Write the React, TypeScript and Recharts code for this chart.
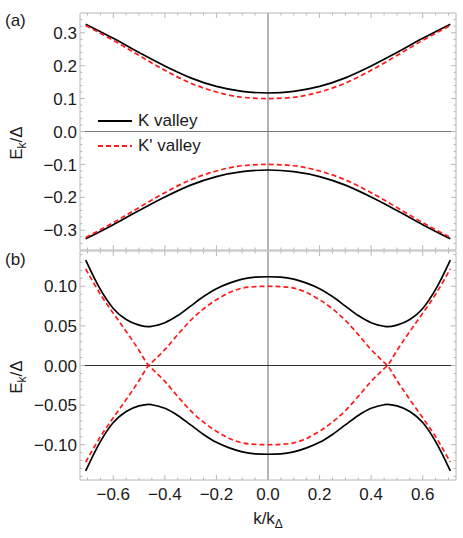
import { LineChart, Line, XAxis, YAxis, ReferenceLine, Legend } from "recharts";

const FONT = "'Liberation Sans', Arial, sans-serif";
const FRAME = "#b8b8b8";
const RED = "#ff1a1a";

// panel (a): k values and band energies
const kA = [-0.707, -0.6, -0.5, -0.4, -0.3, -0.2, -0.1, 0, 0.1, 0.2, 0.3, 0.4, 0.5, 0.6, 0.707];
const kUpperA = [0.326, 0.283, 0.24, 0.199, 0.163, 0.137, 0.122, 0.117, 0.122, 0.137, 0.163, 0.199, 0.24, 0.283, 0.326];
const kLowerA = [-0.326, -0.283, -0.24, -0.199, -0.163, -0.137, -0.122, -0.117, -0.122, -0.137, -0.163, -0.199, -0.24, -0.283, -0.326];
const kpUpperA = [0.322, 0.277, 0.231, 0.186, 0.147, 0.12, 0.104, 0.1, 0.104, 0.12, 0.147, 0.186, 0.231, 0.277, 0.322];
const kpLowerA = [-0.322, -0.277, -0.231, -0.186, -0.147, -0.12, -0.104, -0.1, -0.104, -0.12, -0.147, -0.186, -0.231, -0.277, -0.322];

// panel (b)
const kB = [-0.707, -0.65, -0.6, -0.55, -0.5, -0.463, -0.45, -0.4, -0.35, -0.3, -0.25, -0.2, -0.15, -0.1, -0.05, 0,
  0.05, 0.1, 0.15, 0.2, 0.25, 0.3, 0.35, 0.4, 0.45, 0.463, 0.5, 0.55, 0.6, 0.65, 0.707];
const kUpperB = [0.133, 0.096, 0.072, 0.058, 0.051, 0.049, 0.0495, 0.054, 0.063, 0.075, 0.087, 0.097, 0.104, 0.109, 0.1115, 0.112,
  0.1115, 0.109, 0.104, 0.097, 0.087, 0.075, 0.063, 0.054, 0.0495, 0.049, 0.051, 0.058, 0.072, 0.096, 0.133];
const kLowerB = [-0.133, -0.096, -0.072, -0.058, -0.051, -0.049, -0.0495, -0.054, -0.063, -0.075, -0.087, -0.097, -0.104, -0.109, -0.1115, -0.112,
  -0.1115, -0.109, -0.104, -0.097, -0.087, -0.075, -0.063, -0.054, -0.0495, -0.049, -0.051, -0.058, -0.072, -0.096, -0.133];
const kp1B = [-0.122, -0.09, -0.066, -0.043, -0.019, 0, 0.004, 0.02, 0.039, 0.057, 0.0715, 0.083, 0.092, 0.0977, 0.0995, 0.1,
  0.0995, 0.0977, 0.092, 0.083, 0.0715, 0.057, 0.039, 0.02, 0.004, 0, -0.019, -0.043, -0.066, -0.09, -0.122];
const kp2B = [0.122, 0.09, 0.066, 0.043, 0.019, 0, -0.004, -0.02, -0.039, -0.057, -0.0715, -0.083, -0.092, -0.0977, -0.0995, -0.1,
  -0.0995, -0.0977, -0.092, -0.083, -0.0715, -0.057, -0.039, -0.02, -0.004, 0, 0.019, 0.043, 0.066, 0.09, 0.122];

// labelled ticks
const xMajor = [-0.6, -0.4, -0.2, 0, 0.2, 0.4, 0.6];
const yMajorA = [-0.3, -0.2, -0.1, 0, 0.1, 0.2, 0.3];
const yMajorB = [-0.1, -0.05, 0, 0.05, 0.1];

// minor tick marks
const steps = (lo: number, hi: number, step: number) => {
  const out: number[] = [];
  for (let i = Math.round(lo / step); i <= Math.round(hi / step); i++) out.push(+(i * step).toFixed(4));
  return out;
};
const xTicks = steps(-0.7, 0.7, 0.05);
const yTicksA = steps(-0.34, 0.34, 0.02);
const yTicksB = steps(-0.14, 0.14, 0.01);

const X_DOMAIN = [-0.729, 0.729];
const Y_DOMAIN_A = [-0.36, 0.36];
const Y_DOMAIN_B = [-0.1445, 0.1445];

const dataA = kA.map((k, i) => ({ k, kUp: kUpperA[i], kLo: kLowerA[i], kpUp: kpUpperA[i], kpLo: kpLowerA[i] }));
const dataB = kB.map((k, i) => ({ k, kUp: kUpperB[i], kLo: kLowerB[i], kp1: kp1B[i], kp2: kp2B[i] }));

const fmt = (v: number, digits: number) => (v < -1e-9 ? "\u2212" : "") + Math.abs(v).toFixed(digits);

function FrameTick(props: any) {
  const { x, y, payload, side, majors, digits } = props;
  const v = payload.value;
  const major = majors.some((m: number) => Math.abs(m - v) < 1e-6);
  const len = major ? 5 : 2.5;
  let line;
  if (side === "left") line = <line x1={x} x2={x + len} y1={y} y2={y} />;
  else if (side === "right") line = <line x1={x - len} x2={x} y1={y} y2={y} />;
  else if (side === "top") line = <line x1={x} x2={x} y1={y} y2={y + len} />;
  else line = <line x1={x} x2={x} y1={y - len} y2={y} />;
  return (
    <g stroke={FRAME} strokeWidth={1}>
      {line}
      {major && digits != null && side === "left" && (
        <text x={x - 3} y={y} dy="0.36em" textAnchor="end" stroke="none" fill="#1a1a1a" fontSize={17} fontFamily={FONT}>
          {fmt(v, digits)}
        </text>
      )}
      {major && digits != null && side === "bottom" && (
        <text x={x} y={y + 20} textAnchor="middle" stroke="none" fill="#1a1a1a" fontSize={17} fontFamily={FONT}>
          {fmt(v, digits)}
        </text>
      )}
    </g>
  );
}

function LegendBox() {
  const row = (dash: string | undefined, color: string, label: string) => (
    <div style={{ display: "flex", alignItems: "center", height: 25 }}>
      <svg width={34} height={6}>
        <line x1={0} x2={34} y1={3} y2={3} stroke={color} strokeWidth={1.8} strokeDasharray={dash} />
      </svg>
      <span style={{ marginLeft: 6, fontFamily: FONT, fontSize: 17, color: "#1a1a1a" }}>{label}</span>
    </div>
  );
  return (
    <div>
      {row(undefined, "#000", "K valley")}
      {row("5 3", RED, "K' valley")}
    </div>
  );
}

function frameAxes(yTicks: number[], yMajors: number[], yDomain: number[], yDigits: number, bottomLabels: boolean, topH: number, bottomH: number) {
  return [
    <XAxis key="xb" dataKey="k" type="number" domain={X_DOMAIN} ticks={xTicks} interval={0} allowDataOverflow
      height={bottomH} tickSize={0} tickMargin={0} tickLine={false} axisLine={{ stroke: FRAME }}
      tick={(p: any) => <FrameTick {...p} side="bottom" majors={xMajor} digits={bottomLabels ? 1 : null} />} />,
    <XAxis key="xt" xAxisId="top" orientation="top" dataKey="k" type="number" domain={X_DOMAIN} ticks={xTicks} interval={0} allowDataOverflow
      height={topH} tickSize={0} tickMargin={0} tickLine={false} axisLine={{ stroke: FRAME }}
      tick={(p: any) => <FrameTick {...p} side="top" majors={xMajor} digits={null} />} />,
    <YAxis key="yl" type="number" domain={yDomain} ticks={yTicks} interval={0} allowDataOverflow width={80}
      tickSize={0} tickMargin={0} tickLine={false} axisLine={{ stroke: FRAME }}
      tick={(p: any) => <FrameTick {...p} side="left" majors={yMajors} digits={yDigits} />} />,
    <YAxis key="yr" yAxisId="r" orientation="right" type="number" domain={yDomain} ticks={yTicks} interval={0} allowDataOverflow width={7}
      tickSize={0} tickMargin={0} tickLine={false} axisLine={{ stroke: FRAME }}
      tick={(p: any) => <FrameTick {...p} side="right" majors={yMajors} digits={null} />} />,
  ];
}

export default function App() {
  const labelStyle = { fontFamily: FONT, fontSize: 17, fill: "#1a1a1a" } as const;
  const yLabel = (cy: number) => (
    <text transform={`translate(22, ${cy}) rotate(-90)`} textAnchor="middle" {...labelStyle}>
      E<tspan fontSize={12} dy={4}>k</tspan><tspan dy={-4}>/Δ</tspan>
    </text>
  );
  return (
    <div style={{ position: "absolute", left: 0, top: 0, width: 463, height: 538, background: "#fff" }}>
      <div style={{ position: "absolute", left: 0, top: 0 }}>
        <LineChart width={463} height={251} data={dataA} margin={{ top: 0, right: 0, left: 0, bottom: 0 }}>
          {frameAxes(yTicksA, yMajorA, Y_DOMAIN_A, 1, false, 13, 1)}
          <ReferenceLine x={0} stroke="#9a9a9a" strokeWidth={1.5} />
          <ReferenceLine y={0} stroke="#7a7a7a" strokeWidth={1} />
          <Line dataKey="kUp" type="monotone" stroke="#000" strokeWidth={1.7} dot={false} isAnimationActive={false} />
          <Line dataKey="kLo" type="monotone" stroke="#000" strokeWidth={1.7} dot={false} isAnimationActive={false} legendType="none" />
          <Line dataKey="kpUp" type="monotone" stroke={RED} strokeWidth={1.7} strokeDasharray="5 3" dot={false} isAnimationActive={false} />
          <Line dataKey="kpLo" type="monotone" stroke={RED} strokeWidth={1.7} strokeDasharray="5 3" dot={false} isAnimationActive={false} legendType="none" />
          <Legend layout="vertical" align="center" verticalAlign="middle"
            wrapperStyle={{ left: 98, top: 108, width: 130, height: 50 }} content={() => <LegendBox />} />
        </LineChart>
      </div>
      <div style={{ position: "absolute", left: 0, top: 250 }}>
        <LineChart width={463} height={288} data={dataB} margin={{ top: 0, right: 0, left: 0, bottom: 0 }}>
          {frameAxes(yTicksB, yMajorB, Y_DOMAIN_B, 2, true, 1, 58)}
          <ReferenceLine x={0} stroke="#9a9a9a" strokeWidth={1.5} />
          <ReferenceLine y={0} stroke="#333" strokeWidth={1} />
          <Line dataKey="kUp" type="monotone" stroke="#000" strokeWidth={1.7} dot={false} isAnimationActive={false} />
          <Line dataKey="kLo" type="monotone" stroke="#000" strokeWidth={1.7} dot={false} isAnimationActive={false} />
          <Line dataKey="kp1" type="monotone" stroke={RED} strokeWidth={1.7} strokeDasharray="5 3" dot={false} isAnimationActive={false} />
          <Line dataKey="kp2" type="monotone" stroke={RED} strokeWidth={1.7} strokeDasharray="5 3" dot={false} isAnimationActive={false} />
        </LineChart>
      </div>
      <svg width={463} height={538} style={{ position: "absolute", left: 0, top: 0, pointerEvents: "none" }}>
        <text x={5} y={26} {...labelStyle}>(a)</text>
        <text x={5} y={265} {...labelStyle}>(b)</text>
        {yLabel(143)}
        {yLabel(377)}
        <text x={268} y={524} textAnchor="middle" {...labelStyle}>
          k/k<tspan fontSize={12} dy={4}>Δ</tspan>
        </text>
      </svg>
    </div>
  );
}
